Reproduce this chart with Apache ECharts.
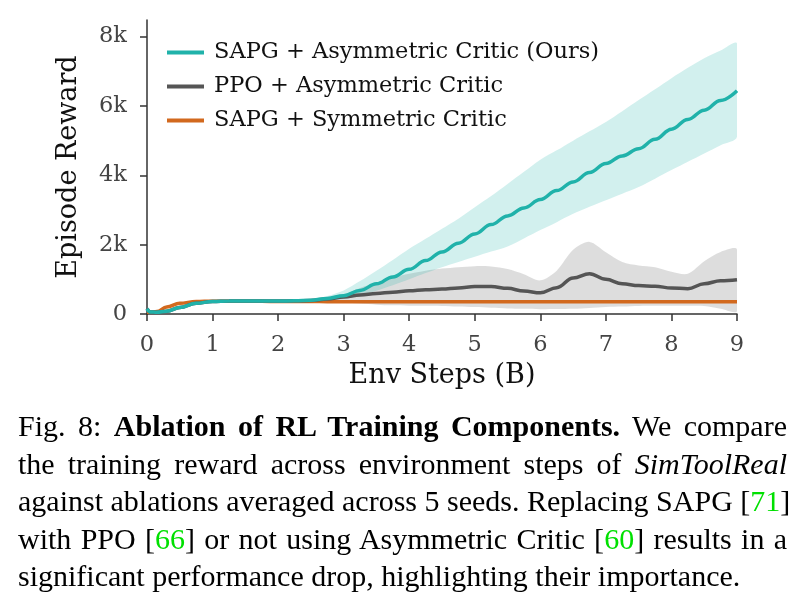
<!DOCTYPE html>
<html>
<head>
<meta charset="utf-8">
<script src="https://cdn.jsdelivr.net/npm/echarts@6/dist/echarts.min.js"></script>
<style>
  body { margin: 0; background: #fff; }
  #chart { position: absolute; left: 0; top: 0; width: 803px; height: 603px; }
  #caption {
    position: absolute; left: 18px; top: 407px; width: 769px;
    font-family: 'Liberation Serif', serif; font-size: 30px; line-height: 37.5px; color: #000;
  }
  #caption div { white-space: nowrap; text-align: justify; text-align-last: justify; }
  #caption div.last { text-align-last: left; }
  .ref { color: #00e000; }
</style>
</head>
<body>
<div id="chart"></div>
<div id="caption">
  <div>Fig. 8: <b>Ablation of RL Training Components.</b> We compare</div>
  <div>the training reward across environment steps of <i>SimToolReal</i></div>
  <div>against ablations averaged across 5 seeds. Replacing SAPG [<span class="ref">71</span>]</div>
  <div>with PPO [<span class="ref">66</span>] or not using Asymmetric Critic [<span class="ref">60</span>] results in a</div>
  <div class="last">significant performance drop, highlighting their importance.</div>
</div>
<script>
// env steps (billions)
const steps = [0, 0.05, 0.15, 0.3, 0.5, 0.75, 1, 1.25, 1.5, 1.75, 2, 2.25, 2.5, 2.75, 3, 3.25, 3.5, 3.75, 4, 4.25, 4.5, 4.75,
  5, 5.25, 5.5, 5.75, 6, 6.25, 6.5, 6.75, 7, 7.25, 7.5, 7.75, 8, 8.25, 8.5, 8.75, 9];

// SAPG + Asymmetric Critic (Ours)
const sapgAsym = [150, 60, 50, 80, 190, 310, 360, 372, 375, 375, 375, 380, 400, 450, 530, 680, 870, 1070, 1290, 1540, 1790, 2040,
  2310, 2580, 2830, 3060, 3300, 3560, 3810, 4080, 4340, 4560, 4770, 5040, 5330, 5610, 5880, 6160, 6440];
const sapgAsymLo = [150, 60, 50, 70, 175, 290, 340, 355, 360, 360, 360, 362, 370, 390, 430, 540, 670, 830, 1000, 1180, 1350, 1500,
  1650, 1800, 1950, 2180, 2420, 2650, 2890, 3090, 3280, 3470, 3660, 3900, 4150, 4390, 4630, 4870, 5110];
const sapgAsymHi = [150, 60, 55, 90, 205, 330, 380, 390, 392, 392, 392, 400, 430, 520, 680, 950, 1250, 1560, 1880, 2170, 2460, 2750,
  3080, 3400, 3750, 4100, 4450, 4720, 5000, 5270, 5540, 5850, 6170, 6480, 6800, 7100, 7380, 7600, 7800];

// PPO + Asymmetric Critic
const ppoAsym = [150, 60, 50, 80, 190, 310, 360, 372, 375, 375, 375, 380, 390, 430, 490, 550, 590, 630, 670, 700, 720, 750,
  790, 790, 740, 660, 610, 760, 1040, 1160, 1000, 870, 820, 800, 750, 730, 870, 960, 990];
const ppoAsymLo = [150, 60, 50, 70, 175, 290, 340, 355, 360, 360, 360, 362, 370, 360, 340, 300, 270, 250, 240, 235, 230, 215,
  200, 180, 160, 150, 140, 145, 150, 175, 200, 215, 230, 235, 240, 235, 230, 150, 90];
const ppoAsymHi = [150, 60, 55, 90, 205, 330, 380, 390, 392, 392, 392, 395, 405, 460, 560, 750, 900, 1050, 1160, 1250, 1310, 1350,
  1380, 1370, 1300, 1150, 970, 1250, 1850, 2080, 1780, 1500, 1400, 1350, 1220, 1160, 1520, 1790, 1860];

// SAPG + Symmetric Critic
const sapgSym = [50, 50, 70, 200, 310, 360, 370, 368, 365, 365, 362, 360, 358, 356, 355, 354, 353, 352, 352, 352, 352, 352,
  352, 352, 352, 352, 352, 352, 352, 352, 352, 352, 352, 352, 352, 352, 352, 352, 352];
const sapgSymLo = sapgSym.map(v => v - 25);
const sapgSymHi = sapgSym.map(v => v + 25);

const yTicks = [0, 2000, 4000, 6000, 8000];

const pts = arr => steps.map((x, i) => [x, arr[i]]);

const font = 'DejaVu Serif';

// shaded min/max band, drawn once as a polygon through the axis scales
function band(lo, hi, color) {
  return {
    type: 'custom', silent: true, z: 1, clip: true,
    data: [0],
    encode: { x: -1, y: -1 },
    renderItem: (params, api) => {
      const upper = steps.map((x, i) => api.coord([x, hi[i]]));
      const lower = steps.map((x, i) => api.coord([x, lo[i]])).reverse();
      return {
        type: 'polygon',
        shape: { points: upper.concat(lower), smooth: 0.3 },
        style: { fill: color }
      };
    }
  };
}

function mean(name, arr, color, z) {
  return {
    name: name, type: 'line', data: pts(arr), smooth: 0.4, smoothMonotone: 'x',
    symbol: 'none', color: color, lineStyle: { color: color, width: 3.5 }, z: z
  };
}

const chart = echarts.init(document.getElementById('chart'));

chart.setOption({
  animation: false,
  grid: { left: 147, right: 66, top: 20, bottom: 289 },
  legend: {
    left: 162, top: 34, orient: 'vertical',
    icon: 'rect', itemWidth: 37, itemHeight: 4, itemGap: 7,
    data: ['SAPG + Asymmetric Critic (Ours)', 'PPO + Asymmetric Critic', 'SAPG + Symmetric Critic'],
    textStyle: { fontFamily: font, fontSize: 22.5, color: '#111', lineHeight: 27, padding: [0, 0, 0, 5] }
  },
  xAxis: {
    type: 'value', min: 0, max: 9, interval: 1,
    name: 'Env Steps (B)', nameLocation: 'middle', nameGap: 48,
    nameTextStyle: { fontFamily: font, fontSize: 27, color: '#111' },
    axisLine: { lineStyle: { color: '#333', width: 1.5 } },
    axisTick: { length: 7, lineStyle: { color: '#333', width: 1.5 } },
    axisLabel: { fontFamily: font, fontSize: 22.5, color: '#444', margin: 20 },
    splitLine: { show: false }
  },
  yAxis: {
    type: 'value', min: 0, max: 8480,
    name: 'Episode Reward', nameLocation: 'middle', nameGap: 65,
    nameTextStyle: { fontFamily: font, fontSize: 27, color: '#111' },
    axisLine: { show: true, lineStyle: { color: '#333', width: 1.5 } },
    axisTick: { show: true, length: 7, customValues: yTicks, lineStyle: { color: '#333', width: 1.5 } },
    axisLabel: {
      fontFamily: font, fontSize: 22.5, color: '#444', margin: 20, customValues: yTicks,
      formatter: v => (v === 0 ? '0' : v / 1000 + 'k')
    },
    splitLine: { show: false }
  },
  series: [
    band(ppoAsymLo, ppoAsymHi, 'rgba(150,150,150,0.32)'),
    band(sapgAsymLo, sapgAsymHi, 'rgba(32,178,170,0.2)'),
    band(sapgSymLo, sapgSymHi, 'rgba(210,105,30,0.2)'),
    mean('SAPG + Symmetric Critic', sapgSym, '#d2691e', 3),
    mean('PPO + Asymmetric Critic', ppoAsym, '#555555', 4),
    mean('SAPG + Asymmetric Critic (Ours)', sapgAsym, '#20b2aa', 5)
  ]
});
</script>
</body>
</html>
